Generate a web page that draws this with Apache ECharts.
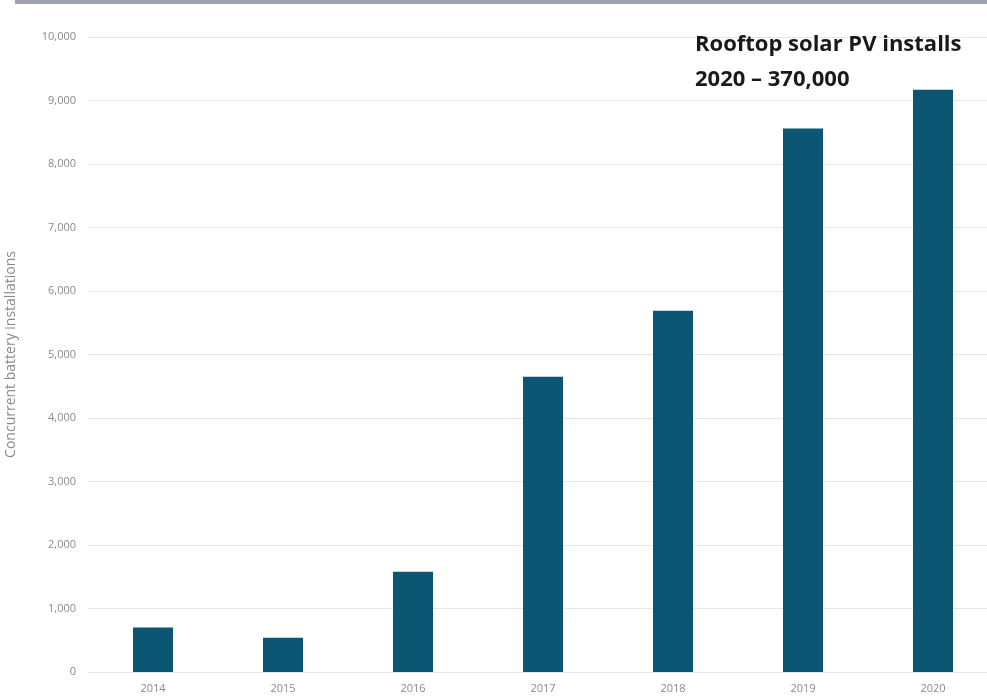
<!DOCTYPE html>
<html>
<head>
<meta charset="utf-8">
<script src="https://cdn.jsdelivr.net/npm/echarts@6/dist/echarts.min.js"></script>
<style>
  html, body { margin: 0; padding: 0; background: #ffffff; }
  #chart { width: 987px; height: 696px; }
</style>
</head>
<body>
<div id="chart"></div>
<script>
// Concurrent battery installations per year
const years = ['2014', '2015', '2016', '2017', '2018', '2019', '2020'];
const installs = [700, 540, 1580, 4650, 5690, 8560, 9170];
const yTicks = { min: 0, max: 10000, step: 1000 };
const axisTitle = 'Concurrent battery installations';
const noteLines = ['Rooftop solar PV installs', '2020 \u2013 370,000'];

const chart = echarts.init(document.getElementById('chart'), null, { renderer: 'canvas' });

const noteFont = 'bold 22px "Open Sans"';

chart.setOption({
  backgroundColor: '#ffffff',
  animation: false,
  grid: { left: 88, right: -11, top: 37, bottom: 24, containLabel: false, outerBoundsMode: 'none' },
  xAxis: {
    type: 'category',
    data: years,
    axisLine: { show: false },
    axisTick: { show: false },
    axisLabel: { color: '#8a8a8a', fontSize: 11, fontFamily: 'Open Sans', margin: 11 }
  },
  yAxis: {
    type: 'value',
    min: yTicks.min,
    max: yTicks.max,
    interval: yTicks.step,
    name: axisTitle,
    nameLocation: 'middle',
    nameRotate: 90,
    nameGap: 70,
    nameTextStyle: { color: '#8a8a8a', fontSize: 14, fontFamily: 'Open Sans' },
    axisLine: { show: false },
    axisTick: { show: false },
    splitLine: { lineStyle: { color: '#e6e6e6', width: 1 } },
    axisLabel: {
      color: '#8a8a8a', fontSize: 11, fontFamily: 'Open Sans', margin: 12,
      formatter: v => v.toLocaleString('en-US')
    }
  },
  series: [{
    type: 'bar',
    data: installs,
    barWidth: 40,
    itemStyle: { color: '#0c5573' }
  }],
  graphic: [
    { type: 'rect', left: 15, top: 0, shape: { width: 972, height: 4 }, style: { fill: '#9ea3ad' }, z: 10 },
    {
      type: 'text', x: 695, y: 45, z: 10,
      style: { text: noteLines[0], font: noteFont, fill: '#1a1a1a', verticalAlign: 'middle' }
    },
    {
      type: 'text', x: 695, y: 80, z: 10,
      style: { text: noteLines[1], font: noteFont, fill: '#1a1a1a', verticalAlign: 'middle' }
    }
  ]
});
</script>
</body>
</html>
